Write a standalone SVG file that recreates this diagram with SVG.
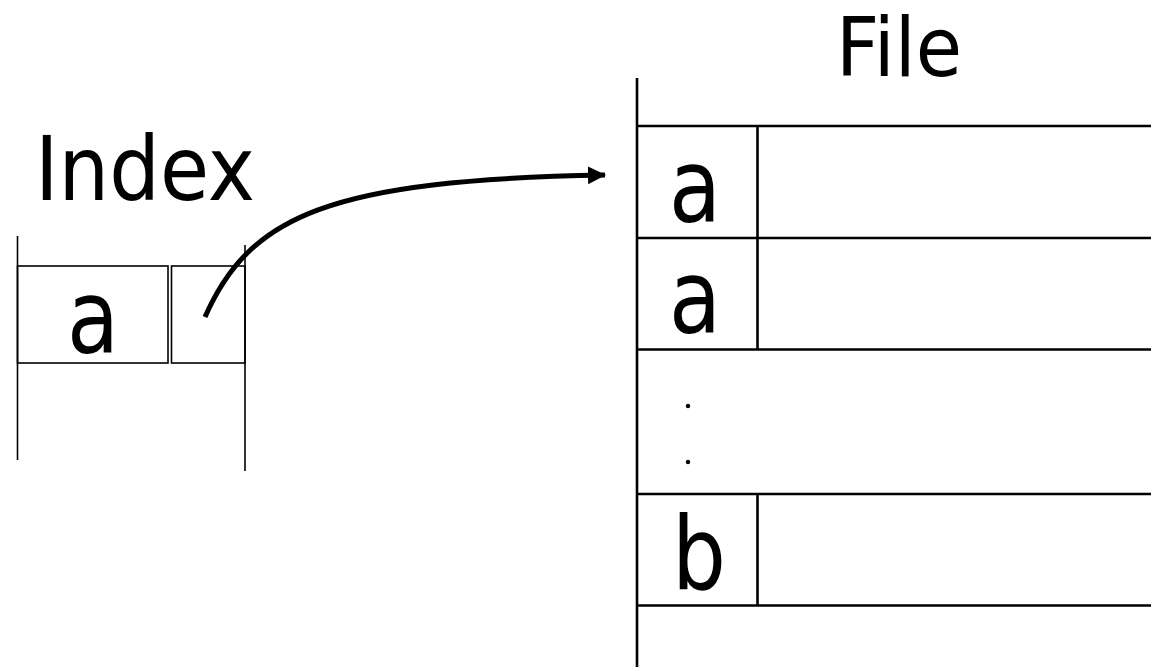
<svg xmlns="http://www.w3.org/2000/svg" width="1151" height="667" viewBox="0 0 1151 667">
<style>
text{font-family:"DejaVu Sans","Liberation Sans",sans-serif;fill:#000}
.title{font-size:89px}
.big{font-size:102px;text-anchor:middle}
.thin{stroke:#000;stroke-width:1.6;fill:none}
.thick{stroke:#000;stroke-width:2.6;fill:none}
</style>
<defs>
<marker id="ah" markerUnits="userSpaceOnUse" markerWidth="20" markerHeight="20" refX="17" refY="9" orient="auto">
<path d="M0,0 L18,9 L0,18 Z" fill="#000"/>
</marker>
</defs>
<rect width="1151" height="667" fill="#fff"/>
<g id="index">
<text class="title" x="35" y="200" textLength="220" lengthAdjust="spacingAndGlyphs">Index</text>
<line class="thin" x1="17.5" y1="236" x2="17.5" y2="460"/>
<line class="thin" x1="245" y1="245" x2="245" y2="471"/>
<rect class="thin" x="17.5" y="266" width="150.5" height="97"/>
<rect class="thin" x="171.5" y="266" width="73.5" height="97"/>
<text class="big" x="93" y="353" textLength="52" lengthAdjust="spacingAndGlyphs">a</text>
</g>
<g id="file">
<text x="836" y="76" font-size="82" textLength="126" lengthAdjust="spacingAndGlyphs">File</text>
<line class="thick" x1="637" y1="78" x2="637" y2="667"/>
<line class="thick" x1="637" y1="126" x2="1151" y2="126"/>
<line class="thick" x1="637" y1="238" x2="1151" y2="238"/>
<line class="thick" x1="637" y1="349.5" x2="1151" y2="349.5"/>
<line class="thick" x1="637" y1="494" x2="1151" y2="494"/>
<line class="thick" x1="637" y1="605.5" x2="1151" y2="605.5"/>
<line class="thick" x1="757.5" y1="126" x2="757.5" y2="349.5"/>
<line class="thick" x1="757.5" y1="494" x2="757.5" y2="605.5"/>
<text class="big" x="695" y="222" textLength="52" lengthAdjust="spacingAndGlyphs">a</text>
<text class="big" x="695" y="333" textLength="52" lengthAdjust="spacingAndGlyphs">a</text>
<text class="big" x="699" y="589" textLength="54" lengthAdjust="spacingAndGlyphs">b</text>
<circle cx="688" cy="406" r="2.2" fill="#000"/>
<circle cx="688" cy="462" r="2.2" fill="#000"/>
</g>
<g id="connectors">
<path d="M205,317 C250,215 330,180 605,175" fill="none" stroke="#000" stroke-width="5" marker-end="url(#ah)"/>
</g>
</svg>
